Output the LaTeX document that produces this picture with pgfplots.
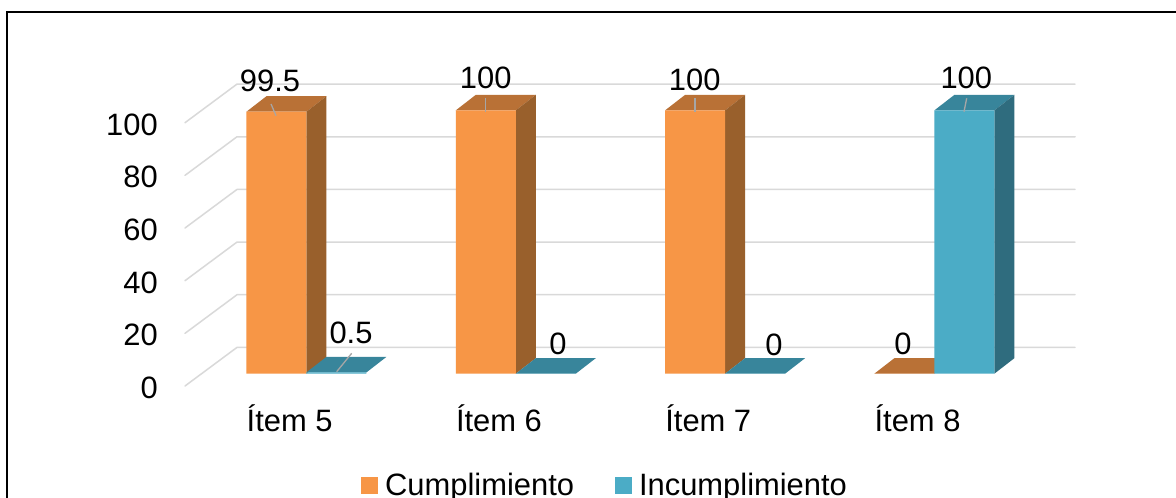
\documentclass[border=0pt]{standalone}
\usepackage{pgfplots}
\pgfplotsset{compat=1.18}
\usepackage{fontspec}
\setmainfont{Liberation Sans}
\definecolor{orF}{HTML}{F79646}
\definecolor{orT}{HTML}{B97136}
\definecolor{orS}{HTML}{99602C}
\definecolor{blF}{HTML}{4BACC6}
\definecolor{blT}{HTML}{38859B}
\definecolor{blS}{HTML}{2F6C7E}
\definecolor{gridc}{HTML}{D9D9D9}
\definecolor{leadc}{HTML}{A6A6A6}
\newcommand{\lab}{\fontsize{30.9}{34}\selectfont}
\begin{document}
\begin{tikzpicture}[x=1pt,y=1pt]
\useasboundingbox (0,0) rectangle (1176,498);
\fill[white] (0,0) rectangle (1176,498);
\draw[black,line width=2pt] (7,0) -- (7,486) -- (1176,486);
\begin{axis}[
  at={(185pt,112pt)}, anchor=south west,
  scale only axis, width=837.2pt, height=263.3pt,
  xmin=-0.5, xmax=3.5, ymin=0, ymax=100,
  clip=false,
  axis line style={draw=none},
  major tick length=0pt,
  xtick={0,1,2,3},
  xticklabels={Ítem 5,Ítem 6,Ítem 7,Ítem 8},
  ytick={0,20,40,60,80,100},
  /pgf/number format/assume math mode=true,
  tick label style={font=\lab},
  xticklabel style={anchor=base, inner sep=0pt, yshift=-45.7pt},
  yticklabel style={anchor=east, inner sep=0pt, xshift=-27pt, yshift=-2pt},
  legend columns=2,
  legend style={
    at={(axis description cs:0.2102,-0.4214)}, anchor=south west,
    draw=none, fill=none, inner sep=0pt, font=\lab,
    nodes={inner sep=0pt, anchor=base west},
    /tikz/every even column/.append style={column sep=41pt},
    /tikz/every odd column/.append style={column sep=7pt},
  },
  legend image code/.code={\fill[#1] (0,-11pt) rectangle (17pt,6pt);},
  every axis plot/.append style={xshift=16.8pt, yshift=12.3pt},
]
% back wall and side gridlines
\foreach \v in {0,20,40,60,80,100}{
  \edef\tmp{\noexpand\draw[gridc,line width=1.5pt,line cap=round,line join=round]
    (axis cs:-0.5,\v) -- ++(52pt,38.6pt) -- ++(838pt,0pt);}
  \tmp
}
% orange tops
\addplot[fill=orT,draw=none,forget plot] coordinates {(-0.2867,99.5)(0,99.5)(0.0956,105.39)(-0.1911,105.39)} -- cycle;
\addplot[fill=orT,draw=none,forget plot] coordinates {(0.7133,100)(1,100)(1.0956,105.89)(0.8089,105.89)} -- cycle;
\addplot[fill=orT,draw=none,forget plot] coordinates {(1.7133,100)(2,100)(2.0956,105.89)(1.8089,105.89)} -- cycle;
\addplot[fill=orT,draw=none,forget plot] coordinates {(2.7133,0)(3,0)(3.0956,5.89)(2.8089,5.89)} -- cycle;
% orange sides
\addplot[fill=orS,draw=none,forget plot] coordinates {(0,0)(0,99.5)(0.0956,105.39)(0.0956,5.89)} -- cycle;
\addplot[fill=orS,draw=none,forget plot] coordinates {(1,0)(1,100)(1.0956,105.89)(1.0956,5.89)} -- cycle;
\addplot[fill=orS,draw=none,forget plot] coordinates {(2,0)(2,100)(2.0956,105.89)(2.0956,5.89)} -- cycle;
% front faces
\addplot[ybar, bar width=60pt, bar shift=-30pt, fill=orF, draw=none]
  coordinates {(0,99.5)(1,100)(2,100)(3,0)};
\addlegendentry{Cumplimiento}
% blue tops
\addplot[fill=blT,draw=none,forget plot] coordinates {(0,0.5)(0.2867,0.5)(0.3823,6.39)(0.0956,6.39)} -- cycle;
\addplot[fill=blT,draw=none,forget plot] coordinates {(1,0)(1.2867,0)(1.3823,5.89)(1.0956,5.89)} -- cycle;
\addplot[fill=blT,draw=none,forget plot] coordinates {(2,0)(2.2867,0)(2.3823,5.89)(2.0956,5.89)} -- cycle;
\addplot[fill=blT,draw=none,forget plot] coordinates {(3,100)(3.2867,100)(3.3823,105.89)(3.0956,105.89)} -- cycle;
% blue side
\addplot[fill=blS,draw=none,forget plot] coordinates {(3.2867,0)(3.2867,100)(3.3823,105.89)(3.3823,5.89)} -- cycle;
\addplot[ybar, bar width=60pt, bar shift=30pt, fill=blF, draw=none]
  coordinates {(0,0.5)(1,0)(2,0)(3,100)};
\addlegendentry{Incumplimiento}
% leader lines
\begin{scope}[leadc,line width=1.3pt]
\draw (axis cs:0,99.5) ++(-18.6pt,43pt) ++(0pt,-23pt) -- ++(5pt,-11.7pt);
\draw (axis cs:1,100) ++(-13.6pt,24.7pt) -- ++(0pt,-13.7pt);
\draw (axis cs:2,100) ++(-13.25pt,24.7pt) -- ++(0pt,-13.7pt);
\draw (axis cs:3,100) ++(49.15pt,24.4pt) -- ++(-2.7pt,-13.4pt);
\draw (axis cs:0,0.5) ++(62.05pt,31.4pt) -- ++(-15pt,-18.4pt);
\end{scope}
% value labels
\begin{scope}[every node/.style={font=\lab,inner sep=0pt,anchor=center}]
\node[xshift=-19.65pt,yshift=43pt] at (axis cs:0,99.5) {99.5};
\node[xshift=-13.25pt,yshift=45.2pt] at (axis cs:1,100) {100};
\node[xshift=-13.55pt,yshift=42.7pt] at (axis cs:2,100) {100};
\node[xshift=48.75pt,yshift=45.2pt] at (axis cs:3,100) {100};
\node[xshift=61.35pt,yshift=51.7pt] at (axis cs:0,0.5) {0.5};
\node[xshift=59.05pt,yshift=42pt] at (axis cs:1,0) {0};
\node[xshift=65.75pt,yshift=41pt] at (axis cs:2,0) {0};
\node[xshift=-14.55pt,yshift=42pt] at (axis cs:3,0) {0};
\end{scope}
\end{axis}
\end{tikzpicture}
\end{document}
